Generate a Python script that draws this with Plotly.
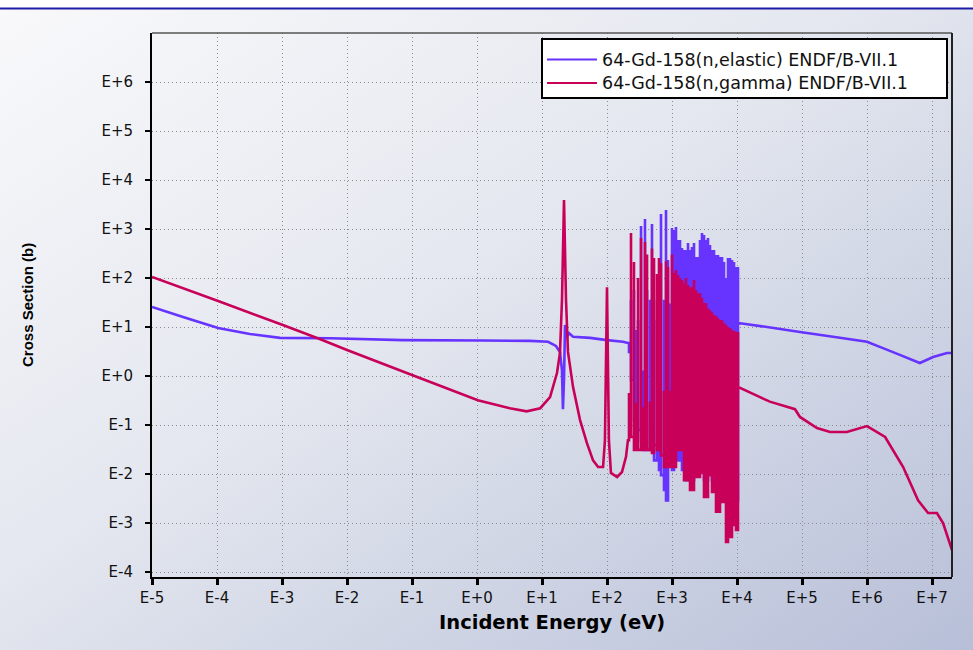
import base64
import plotly.graph_objects as go

# ---------------- data (energies in eV, cross sections in barns) ----------------
x_tick_vals = [1e-5, 1e-4, 1e-3, 1e-2, 1e-1, 1e0, 1e1, 1e2, 1e3, 1e4, 1e5, 1e6, 1e7]
x_tick_text = ["E-5", "E-4", "E-3", "E-2", "E-1", "E+0", "E+1", "E+2", "E+3", "E+4", "E+5", "E+6", "E+7"]
y_tick_vals = [1e-4, 1e-3, 1e-2, 1e-1, 1e0, 1e1, 1e2, 1e3, 1e4, 1e5, 1e6]
y_tick_text = ["E-4", "E-3", "E-2", "E-1", "E+0", "E+1", "E+2", "E+3", "E+4", "E+5", "E+6"]

# (n,elastic) below the resolved resonance block
el_low_E = [1e-5, 3.0e-5, 1.04e-4, 3.2e-4, 9.3e-4, 5.5e-3, 0.072, 1.24, 6.5, 12.4, 16.4, 18.9,
            20.3, 21.0, 21.8, 22.6, 24.3, 26.0, 30.0, 55.0, 100.0, 176.0, 210.0]
el_low_xs = [25.6, 16.0, 9.5, 7.2, 6.0, 5.9, 5.4, 5.3, 5.2, 5.0, 4.1, 3.1,
             1.3, 0.21, 0.83, 11.0, 6.3, 7.5, 6.3, 6.0, 5.4, 5.0, 4.7]
# (n,elastic) above the resolved resonance block
el_high_E = [2.9e4, 9.3e4, 3.0e5, 1.0e6, 1.76e6, 3.2e6, 6.5e6, 1.04e7, 1.7e7, 2.03e7]
el_high_xs = [10.0, 7.9, 6.3, 5.0, 3.7, 2.7, 1.84, 2.44, 2.94, 2.94]

# (n,gamma) below the resolved resonance block
ng_low_E = [1e-5, 1.04e-4, 1.03e-3, 3.8e-3, 1e-2, 0.1, 1.03, 3.2, 5.8, 9.4, 13.3, 17.0, 18.9,
            20.3, 21.8, 23.4, 25.1, 30.0, 38.5, 49.0, 61.0, 73.0, 87.0, 93.0, 100.0, 107.0,
            115.0, 143.0, 170.0, 196.0, 210.0]
ng_low_xs = [105, 34, 11, 5.7, 3.4, 1.05, 0.32, 0.22, 0.19, 0.22, 0.37, 1.15, 2.95,
             36, 3900, 36, 3.1, 0.6, 0.126, 0.043, 0.019, 0.0139, 0.0139, 0.049, 65, 0.049,
             0.0105, 0.0087, 0.011, 0.0224, 0.049]
# (n,gamma) above the resolved resonance block
ng_high_E = [2.26e4, 3.2e4, 7.8e4, 9.3e4, 1.7e5, 2.7e5, 4.9e5, 1.0e6, 1.9e6, 3.6e6, 6.1e6,
             8.7e6, 1.19e7, 1.48e7, 2.03e7]
ng_high_xs = [0.37, 0.30, 0.21, 0.146, 0.087, 0.072, 0.072, 0.095, 0.057, 0.0139, 0.0029,
              0.0016, 0.0016, 0.001, 0.00028]

# resolved resonances: energy, peak value and the value reached after each peak
res_E = [218, 234, 260, 279, 300, 334, 358, 384, 413, 459,
         492, 529, 588, 631, 677, 753, 809, 868, 932, 1000,
         1074, 1152, 1237, 1328, 1425, 1530, 1642, 1763, 1892, 2031,
         2180, 2340, 2512, 2697, 2894, 3107, 3335, 3580, 3843, 4125,
         4428, 4753, 5102, 5477, 5879, 6310, 6774, 7271, 7805, 8378,
         8993, 9653, 10362]
ng_peak = [0.45, 830, 212, 0.28, 100, 655, 0.23, 543, 300, 0.3,
           400, 256, 120, 256, 200, 0.5, 220, 168, 0.5, 300,
           126, 146, 115, 100, 91, 79, 100, 72, 65, 65,
           91, 57, 49, 49, 39, 31, 31, 24, 22, 20,
           17.6, 16.8, 15.3, 13.9, 13.9, 12.1, 11.0, 10.0, 9.5, 8.7,
           8.3, 7.9, 7.9]
ng_valley = [0.057, 0.057, 0.031, 0.057, 0.031, 0.057, 0.031, 0.039, 0.031, 0.049,
             0.027, 0.039, 0.031, 0.039, 0.024, 0.0139, 0.019, 0.0139, 0.019, 0.0139,
             0.0139, 0.031, 0.031, 0.031, 0.031, 0.0075, 0.0075, 0.0075, 0.0047, 0.0047,
             0.0087, 0.0087, 0.0087, 0.0105, 0.0105, 0.0034, 0.0034, 0.0095, 0.0095, 0.0043,
             0.0043, 0.0017, 0.0017, 0.0027, 0.0027, 0.0027, 0.00041, 0.00052, 0.00052, 0.00091,
             0.00091, 0.00072, 0.6]
el_peak = [4.3, 36, 57, 8.7, 13.9, 1150, 1.3, 1600, 57, 36,
           1260, 13.9, 36, 100, 2020, 36, 2440, 233, 30, 1050,
           955, 1100, 597, 597, 410, 373, 373, 518, 373, 429,
           518, 268, 268, 597, 830, 755, 597, 655, 471, 373,
           373, 295, 295, 268, 268, 212, 100, 256, 256, 233,
           212, 168, 168]
el_valley = [3.1, 0.83, 0.126, 0.32, 0.079, 0.049, 0.031, 0.126, 0.031, 0.20,
             0.049, 0.019, 0.079, 0.0121, 0.0095, 0.0047, 0.0029, 0.019, 0.049, 0.0121,
             0.031, 0.019, 0.024, 0.019, 0.0121, 0.0121, 0.0075, 0.0121, 0.0075, 0.0075,
             0.0121, 0.0121, 0.0121, 0.019, 0.0121, 0.0075, 0.0075, 0.0121, 0.0121, 0.0075,
             0.0075, 0.0047, 0.0047, 0.0047, 0.0047, 0.0047, 0.0029, 0.0029, 0.0029, 0.0029,
             0.0029, 0.0029, 12.1]

ELASTIC_COLOR = "#6633ff"
GAMMA_COLOR = "#c8005a"
TICK_FONT = dict(family="DejaVu Sans, Liberation Sans, sans-serif", size=15, color="#111111")


def assemble(low_E, low_xs, peaks, valleys, high_E, high_xs):
    """Join the smooth parts with the resonance block drawn as vertical spikes."""
    xs, ys = list(low_E), list(low_xs)
    prev = low_xs[-1]
    for e, p, v in zip(res_E, peaks, valleys):
        xs += [e, e, e]
        ys += [prev, p, v]
        prev = v
    xs += list(high_E)
    ys += list(high_xs)
    return xs, ys


el_x, el_y = assemble(el_low_E, el_low_xs, el_peak, el_valley, el_high_E, el_high_xs)
ng_x, ng_y = assemble(ng_low_E, ng_low_xs, ng_peak, ng_valley, ng_high_E, ng_high_xs)

fig = go.Figure()
fig.add_trace(go.Scatter(x=el_x, y=el_y, mode="lines", name="64-Gd-158(n,elastic) ENDF/B-VII.1",
                         line=dict(color=ELASTIC_COLOR, width=2.6, simplify=False), showlegend=False))
fig.add_trace(go.Scatter(x=ng_x, y=ng_y, mode="lines", name="64-Gd-158(n,gamma) ENDF/B-VII.1",
                         line=dict(color=GAMMA_COLOR, width=2.6, simplify=False), showlegend=False))

# plot area geometry in pixels
W, H = 973, 650
L, R, T, B = 152, 952, 33, 577
pw, ph = R - L, B - T


def px(x):
    return (x - L) / pw


def py(y):
    return (B - y) / ph


x_range = [-5, 7.3077]
y_range = [-4.102, 7.0]

grid = dict(showgrid=True, gridcolor="#8c8c8c", gridwidth=1, griddash="1px,3px")

fig.update_layout(
    width=W, height=H,
    margin=dict(l=L, r=W - R, t=T, b=H - B, pad=0),
    paper_bgcolor="#e4e7ef",
    plot_bgcolor="#ffffff",
    xaxis=dict(type="log", range=x_range, tickmode="array", tickvals=x_tick_vals,
               ticktext=x_tick_text, ticks="outside", ticklen=6, tickwidth=3, tickcolor="#000",
               showline=True, linecolor="#000", linewidth=2, zeroline=False,
               tickfont=TICK_FONT, **grid),
    xaxis2=dict(type="log", range=x_range, overlaying="x", anchor="y", side="bottom",
                tickmode="array", tickvals=x_tick_vals, ticks="inside", ticklen=7, tickwidth=3,
                tickcolor="#000", showticklabels=False, showgrid=False, showline=False,
                zeroline=False),
    yaxis=dict(type="log", range=y_range, tickmode="array", tickvals=y_tick_vals,
               ticktext=y_tick_text, ticks="outside", ticklen=5, tickwidth=2, tickcolor="#000",
               showline=True, linecolor="#000", linewidth=2, zeroline=False,
               ticklabelstandoff=9, tickfont=TICK_FONT, **grid),
    yaxis2=dict(type="log", range=y_range, overlaying="y", anchor="x", side="left",
                tickmode="array", tickvals=y_tick_vals, ticks="inside", ticklen=6, tickwidth=2,
                tickcolor="#000", showticklabels=False, showgrid=False, showline=False,
                zeroline=False),
    showlegend=False,
)

# page background: soft diagonal gradient with a white band above the header rule
bg_svg = (
    '<svg xmlns="http://www.w3.org/2000/svg" width="973" height="650" viewBox="0 0 973 650" '
    'preserveAspectRatio="none"><defs><linearGradient id="g" x1="0" y1="0" x2="1" y2="1">'
    '<stop offset="0" stop-color="#f9f9fb"/><stop offset="0.45" stop-color="#e4e7ef"/>'
    '<stop offset="1" stop-color="#b7bfd8"/></linearGradient></defs>'
    '<rect width="973" height="650" fill="url(#g)"/>'
    '<rect width="973" height="8" fill="#ffffff"/></svg>'
)
bg_uri = "data:image/svg+xml;base64," + base64.b64encode(bg_svg.encode()).decode()
fig.add_layout_image(dict(source=bg_uri, xref="paper", yref="paper", x=px(0), y=py(0),
                          sizex=W / pw, sizey=H / ph, xanchor="left", yanchor="top",
                          sizing="stretch", layer="below"))

shapes = [
    # header rule
    dict(type="line", xref="paper", yref="paper", x0=px(0), x1=px(W), y0=py(8.5), y1=py(8.5),
         line=dict(color="#1c1ca6", width=2), layer="above"),
    # top and right frame
    dict(type="line", xref="paper", yref="paper", x0=0, x1=1, y0=1, y1=1,
         line=dict(color="#555555", width=1.5), layer="above"),
    dict(type="line", xref="paper", yref="paper", x0=1, x1=1, y0=0, y1=1,
         line=dict(color="#222222", width=2), layer="above"),
    # legend box
    dict(type="rect", xref="paper", yref="paper", x0=px(542), x1=px(947), y0=py(98), y1=py(39),
         line=dict(color="#000000", width=2), fillcolor="#ffffff", layer="above"),
    dict(type="line", xref="paper", yref="paper", x0=px(547), x1=px(597), y0=py(59.5), y1=py(59.5),
         line=dict(color=ELASTIC_COLOR, width=2), layer="above"),
    dict(type="line", xref="paper", yref="paper", x0=px(547), x1=px(597), y0=py(83), y1=py(83),
         line=dict(color=GAMMA_COLOR, width=2), layer="above"),
]
fig.update_layout(shapes=shapes)

legend_font = dict(family="DejaVu Sans, Liberation Sans, sans-serif", size=17.5, color="#111111")
annotations = [
    dict(text="64-Gd-158(n,elastic) ENDF/B-VII.1", xref="paper", yref="paper",
         x=px(600), y=py(59.5), xanchor="left", yanchor="middle", showarrow=False, font=legend_font),
    dict(text="64-Gd-158(n,gamma) ENDF/B-VII.1", xref="paper", yref="paper",
         x=px(600), y=py(83), xanchor="left", yanchor="middle", showarrow=False, font=legend_font),
    dict(text="<b>Incident Energy (eV)</b>", xref="paper", yref="paper", x=0.5, y=py(622),
         xanchor="center", yanchor="middle", showarrow=False,
         font=dict(family="DejaVu Sans, Liberation Sans, sans-serif", size=19.5, color="#000000")),
    dict(text="<b>Cross Section (b)</b>", xref="paper", yref="paper", x=px(27), y=0.5,
         xanchor="center", yanchor="middle", textangle=-90, showarrow=False,
         font=dict(family="Liberation Sans, Arial, sans-serif", size=15, color="#000000")),
]
fig.update_layout(annotations=annotations)

fig.write_html("out.html", config={"displayModeBar": False})
